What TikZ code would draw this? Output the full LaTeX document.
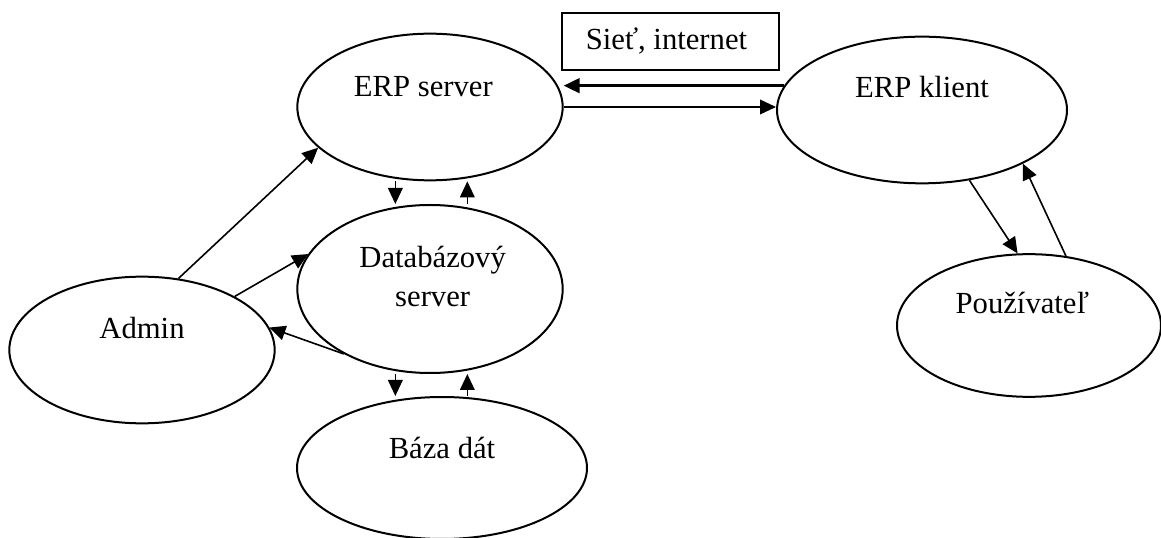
\documentclass[tikz,border=0pt]{standalone}
\usepackage{fontspec}
\setmainfont{Liberation Serif}
\usepackage{tikz}
\usetikzlibrary{arrows.meta, shapes.geometric}

\begin{document}
\begin{tikzpicture}[
    x=0.75pt, y=-0.75pt,
    font=\fontsize{23}{29}\selectfont,
    >={Triangle[length=12pt, width=11pt]},
    ellnode/.style={ellipse, draw=black, line width=1.5pt, minimum width=199pt, minimum height=110pt},
    wideellnode/.style={ellnode, minimum width=217.5pt},
    boxnode/.style={rectangle, draw=black, line width=1.1pt, minimum width=163pt, minimum height=43pt},
    link/.style={->, line width=1.2pt},
    ]
    \useasboundingbox (0,0) rectangle (1161,538);

    \node[ellnode, label={[xshift=-5pt, yshift=15pt]center:ERP server}]            (srv)  at (430,107)   {};
    \node[wideellnode, label={[yshift=17pt]center:ERP klient}]                      (kli)  at (922,110)   {};
    \node[ellnode, minimum height=126pt,
          label={[align=center, xshift=2pt, yshift=9.5pt]center:Databázový\\server}] (db)   at (430,289)   {};
    \node[ellnode, label={[yshift=16.5pt]center:Admin}]                             (adm)  at (142,350)   {};
    \node[wideellnode, minimum height=106.5pt, label={[yshift=15pt]center:Báza dát}] (baza) at (442,468)   {};
    \node[ellnode, minimum width=198pt, minimum height=107pt,
          label={[xshift=-5pt, yshift=17pt]center:Používateľ}]                      (pouz) at (1029,325.5) {};
    \node[boxnode]                                                                  (net)  at (670.5,41.5) {\hspace*{-6pt}Sieť, internet};

    \draw[->, line width=2pt] (kli.170) -- (kli.170 -| srv.east);
    \draw[link] (srv.east) -- (srv.east -| kli.west);

    \draw[link] ([xshift=-26pt]srv.south) -- ([xshift=-26pt]srv.south |- db.north);
    \draw[link] ([xshift=28pt]srv.south |- db.north) -- ([xshift=28pt]srv.south);
    \draw[link] ([xshift=-26pt]db.south) -- ([xshift=-26pt]db.south |- baza.north);
    \draw[link] ([xshift=28pt]db.south |- baza.north) -- ([xshift=28pt]db.south);

    \draw[link] (adm.63) -- (srv.-160);
    \draw[link] (adm.30) -- (db.164);
    \draw[link] (db.217) -- (adm.10);

    \draw[link] (kli.-56) -- (pouz.99);
    \draw[link] (pouz.62) -- (kli.-28);

\end{tikzpicture}
\end{document}
